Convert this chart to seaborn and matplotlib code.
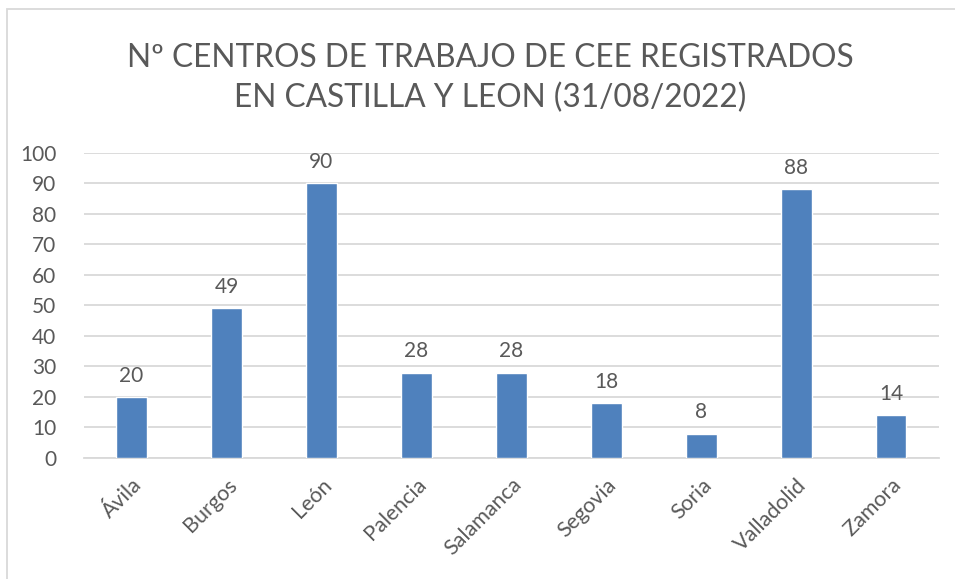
import matplotlib
matplotlib.use("Agg")
import matplotlib.pyplot as plt
import seaborn as sns
import pandas as pd

# data
provincias = ["Ávila", "Burgos", "León", "Palencia", "Salamanca", "Segovia", "Soria", "Valladolid", "Zamora"]
centros = [20, 49, 90, 28, 28, 18, 8, 88, 14]

df = pd.DataFrame({"provincia": provincias, "centros": centros})

sns.set_style("white")
plt.rcParams["font.family"] = ["Lato", "DejaVu Sans"]

gris = "#595959"

fig = plt.figure(figsize=(9.55, 5.79), dpi=100)
ax = fig.add_axes([0.088, 0.209, 0.895, 0.527])

sns.barplot(data=df, x="provincia", y="centros", color="#4F81BD", saturation=1,
            width=0.32, ax=ax, zorder=3)

ax.set_ylim(0, 100)
ax.set_yticks(range(0, 101, 10))
ax.grid(axis="y", color="#D9D9D9", linewidth=1.3, zorder=0)
for s in ["top", "right", "left"]:
    ax.spines[s].set_visible(False)
ax.spines["bottom"].set_color("#D9D9D9")
ax.spines["bottom"].set_linewidth(1.3)
ax.tick_params(axis="both", length=0, labelsize=15, labelcolor=gris)
ax.tick_params(axis="y", pad=20)
ax.tick_params(axis="x", pad=12, labelsize=15.5)
ax.set_xlabel("")
ax.set_ylabel("")
plt.setp(ax.get_xticklabels(), rotation=45, ha="right", rotation_mode="anchor")

for c in ax.containers:
    ax.bar_label(c, padding=8, fontsize=15, color=gris)

fig.text(0.513, 0.865, "Nº CENTROS DE TRABAJO DE CEE REGISTRADOS\nEN CASTILLA Y LEON (31/08/2022)",
         ha="center", va="center", fontsize=22.8, color=gris, linespacing=1.42)

# light border like the Excel chart area
fig.add_artist(plt.Rectangle((7 / 955, -0.05), 1.1, 1.05 - 9 / 579, transform=fig.transFigure,
                             fill=False, edgecolor="#D9D9D9", linewidth=1.3))

fig.savefig("out.png", dpi=100)
